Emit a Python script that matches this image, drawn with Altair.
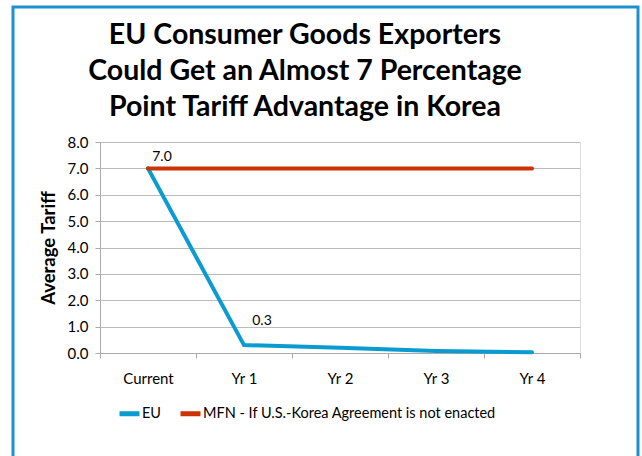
import altair as alt
import pandas as pd

periods = ["Current", "Yr 1", "Yr 2", "Yr 3", "Yr 4"]
eu_values = [7.0, 0.3, 0.2, 0.08, 0.03]
mfn_values = [7.0, 7.0, 7.0, 7.0, 7.0]
series_names = ["EU", "MFN - If U.S.-Korea Agreement is not enacted"]
series_colors = ["#0A9BD0", "#CC3300"]
title_lines = ["EU Consumer Goods Exporters",
               "Could Get an Almost 7 Percentage",
               "Point Tariff Advantage in Korea"]
y_ticks = [0, 1, 2, 3, 4, 5, 6, 7, 8]

rows = []
for p, v in zip(periods, eu_values):
    rows.append({"period": p, "tariff": v, "series": series_names[0]})
for p, v in zip(periods, mfn_values):
    rows.append({"period": p, "tariff": v, "series": series_names[1]})
df = pd.DataFrame(rows)

FONT = "Lato"

x_enc = alt.X("period:N", sort=periods,
              scale=alt.Scale(type="band", paddingInner=0, paddingOuter=0),
              axis=alt.Axis(title=None, tickBand="extent", labelPadding=13,
                            labelFontSize=15, labelColor="#000000", labelFont=FONT,
                            domainColor="#AAAAAA", tickColor="#AAAAAA", tickSize=5,
                            labelAngle=0, grid=False))
y_enc = alt.Y("tariff:Q", scale=alt.Scale(domain=[0, 8]),
              axis=alt.Axis(title="Average Tariff", format=".1f",
                            values=y_ticks, labelOverlap=False,
                            titleFontSize=18.5, titleFont=FONT, titleFontWeight="bold",
                            titleColor="#000000", titlePadding=9,
                            labelFontSize=15, labelFont=FONT, labelColor="#000000",
                            labelPadding=7,
                            domainColor="#AAAAAA", tickColor="#AAAAAA", tickSize=5,
                            gridColor="#BBBBBB", gridWidth=1))

lines = alt.Chart(df).mark_line(strokeWidth=4, strokeCap="round", strokeJoin="miter").encode(
    x=x_enc,
    y=y_enc,
    color=alt.Color("series:N", sort=series_names,
                    scale=alt.Scale(domain=series_names, range=series_colors),
                    legend=alt.Legend(title=None, orient="none", direction="horizontal",
                                      legendX=17, legendY=259,
                                      symbolType="stroke", symbolStrokeWidth=5,
                                      symbolSize=400, labelFontSize=14.5, labelFont=FONT,
                                      labelColor="#000000", labelOffset=0,
                                      columnPadding=8, labelLimit=400)),
)

first_label = alt.Chart(df).transform_filter(
    (alt.datum.series == series_names[0]) & (alt.datum.period == periods[0])
).mark_text(dx=14, dy=-11, fontSize=14, font=FONT, color="#000000").encode(
    x=x_enc, y=y_enc, text=alt.Text("tariff:Q", format=".1f"))

second_label = alt.Chart(df).transform_filter(
    (alt.datum.series == series_names[0]) & (alt.datum.period == periods[1])
).mark_text(dx=18, dy=-24, fontSize=14, font=FONT, color="#000000").encode(
    x=x_enc, y=y_enc, text=alt.Text("tariff:Q", format=".1f"))

title_text = alt.Chart(pd.DataFrame({"a": [0]})).mark_text(
    fontSize=28.5, font=FONT, fontWeight="bold", color="#000000",
    lineHeight=36, align="center", baseline="top"
).encode(x=alt.value(205), y=alt.value(-121), text=alt.value(title_lines))

frame = alt.Chart(pd.DataFrame({"a": [0]})).mark_rect(
    fill=None, stroke="#1E90D2", strokeWidth=3
).encode(x=alt.value(-87), x2=alt.value(538), y=alt.value(-135), y2=alt.value(330))

chart = alt.layer(frame, title_text, lines, first_label, second_label).properties(
    width=480, height=211,
    padding={"left": 100, "top": 142, "right": 62, "bottom": 103},
    autosize=alt.AutoSizeParams(type="none"),
).configure_view(stroke=None).configure(background="#FFFFFF")

chart.save("out.html", embed_options={"renderer": "svg", "actions": False})
